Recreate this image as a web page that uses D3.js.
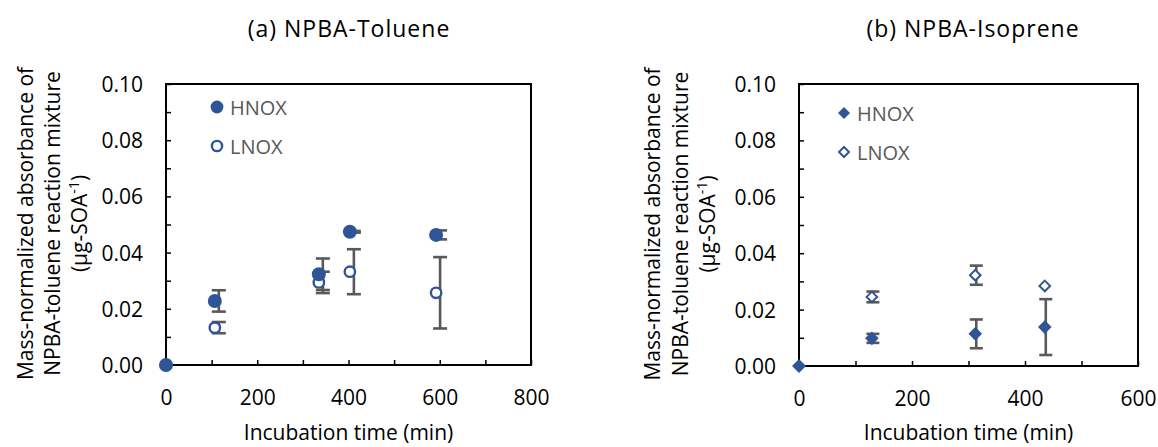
<!DOCTYPE html>
<html>
<head>
<meta charset="utf-8">
<script src="https://cdn.jsdelivr.net/npm/d3@7"></script>
<style>
  body { margin: 0; background: #fff; }
  svg, svg text { font-family: "Open Sans", sans-serif; }
  .tick text { fill: #000; }
</style>
</head>
<body>
<svg id="chart" width="1158" height="447"></svg>
<script>
// (a) NPBA-Toluene
const timeA = [0, 107, 335, 403, 592];
const hnoxA = [0, 0.0228, 0.0323, 0.0474, 0.0463];
const hnoxErrA = [0, 0.0038, 0.0056, 0.0003, 0.0016];
const lnoxA = [0, 0.0133, 0.0294, 0.0332, 0.0257];
const lnoxErrA = [0, 0.002, 0.0038, 0.008, 0.0127];

// (b) NPBA-Isoprene
const timeB = [0, 129, 312, 435];
const hnoxB = [0, 0.0098, 0.0114, 0.0138];
const hnoxErrB = [0, 0.0016, 0.0051, 0.0099];
const lnoxB = [0, 0.0245, 0.0322, 0.0284];
const lnoxErrB = [0, 0.0019, 0.0034, 0];

const seriesNames = ['HNOX', 'LNOX'];
const yTitleLines = ['Mass-normalized absorbance of', 'NPBA-toluene reaction mixture'];
const xTitle = 'Incubation time (min)';

const blue = '#2F5597';
const gray = '#595959';

const svg = d3.select('#chart');

const panels = [
  {
    title: '(a) NPBA-Toluene', time: timeA, hnox: hnoxA, hnoxErr: hnoxErrA, lnox: lnoxA, lnoxErr: lnoxErrA,
    xMax: 800, left: 166, right: 531, top: 84, bottom: 365, shape: 'circle', errShift: 4,
    titleX: 349, yTitleX: [-133, -106, -79], legend: { x: 51, y: 23 }
  },
  {
    title: '(b) NPBA-Isoprene', time: timeB, hnox: hnoxB, hnoxErr: hnoxErrB, lnox: lnoxB, lnoxErr: lnoxErrB,
    xMax: 600, left: 799, right: 1138, top: 84, bottom: 366, shape: 'diamond', errShift: 1,
    titleX: 973, yTitleX: [-139, -111, -84], legend: { x: 45, y: 29 }
  }
];

function drawMarker(g, shape, filled, x, y, size) {
  if (shape === 'circle') {
    g.append('circle')
      .attr('cx', x).attr('cy', y)
      .attr('r', filled ? size : size - 1.3)
      .attr('fill', filled ? blue : '#fff')
      .attr('stroke', blue)
      .attr('stroke-width', filled ? 0 : 2.4);
  } else {
    const s = filled ? size : size - 1;
    g.append('path')
      .attr('d', `M${x},${y - s}L${x + s},${y}L${x},${y + s}L${x - s},${y}Z`)
      .attr('fill', filled ? blue : '#fff')
      .attr('stroke', blue)
      .attr('stroke-width', filled ? 0 : 2);
  }
}

panels.forEach((p) => {
  const x = d3.scaleLinear().domain([0, p.xMax]).range([p.left, p.right]);
  const y = d3.scaleLinear().domain([0, 0.1]).range([p.bottom, p.top]);
  const g = svg.append('g');

  // title
  g.append('text')
    .attr('x', p.titleX).attr('y', 37)
    .attr('text-anchor', 'middle')
    .style('font-size', '23px')
    .style('letter-spacing', '1px')
    .attr('fill', '#000')
    .text(p.title);

  // frame
  g.append('rect')
    .attr('x', p.left).attr('y', p.top)
    .attr('width', p.right - p.left).attr('height', p.bottom - p.top)
    .attr('fill', 'none').attr('stroke', '#000').attr('stroke-width', 2);

  // y axis: ticks every 0.01 (inside), labels every 0.02
  const yAxis = g.append('g')
    .attr('transform', `translate(${p.left},0)`)
    .call(d3.axisRight(y).tickValues(d3.range(0, 0.1001, 0.01)).tickSize(5).tickFormat(''));
  yAxis.select('.domain').remove();
  yAxis.selectAll('line').attr('stroke', '#000').attr('stroke-width', 1.5);

  const yLabels = g.append('g')
    .attr('transform', `translate(${p.left},0)`)
    .call(d3.axisLeft(y).tickValues(d3.range(0, 0.1001, 0.02)).tickSize(0).tickPadding(23).tickFormat(d3.format('.2f')));
  yLabels.select('.domain').remove();
  yLabels.attr('font-family', null);
  yLabels.selectAll('text').style('font-size', '21px').attr('dy', '0.36em');

  // x axis: ticks every 100 (inside), labels every 200
  const xAxis = g.append('g')
    .attr('transform', `translate(0,${p.bottom})`)
    .call(d3.axisTop(x).tickValues(d3.range(0, p.xMax + 1, 100)).tickSize(5).tickFormat(''));
  xAxis.select('.domain').remove();
  xAxis.selectAll('line').attr('stroke', '#000').attr('stroke-width', 1.5);

  const xLabels = g.append('g')
    .attr('transform', `translate(0,${p.bottom})`)
    .call(d3.axisBottom(x).tickValues(d3.range(0, p.xMax + 1, 200)).tickSize(0).tickPadding(25));
  xLabels.select('.domain').remove();
  xLabels.attr('font-family', null);
  xLabels.selectAll('text').style('font-size', '21px').attr('dy', '0.71em');

  // axis titles
  g.append('text')
    .attr('x', (p.left + p.right) / 2).attr('y', 440)
    .attr('text-anchor', 'middle')
    .style('font-size', '21px')
    .attr('fill', '#000')
    .text(xTitle);

  const cy = (p.top + p.bottom) / 2 - 1;
  const yt = g.append('g')
    .attr('transform', `translate(${p.left},${cy}) rotate(-90)`)
    .style('font-size', '21px')
    .attr('fill', '#000')
    .attr('text-anchor', 'middle');
  yTitleLines.forEach((line, i) => {
    yt.append('text').attr('x', 0).attr('y', p.yTitleX[i]).text(line);
  });
  const t3 = yt.append('text').attr('x', 0).attr('y', p.yTitleX[2]);
  t3.append('tspan').text('(µg-SOA');
  t3.append('tspan').attr('dy', -8).style('font-size', '14px').text('-1');
  t3.append('tspan').attr('dy', 8).text(')');

  // error bars
  const errs = g.append('g').attr('stroke', gray).attr('stroke-width', 2.6).attr('fill', 'none');
  const capHalf = p.shape === 'circle' ? 7 : 6.5;
  [[p.hnox, p.hnoxErr], [p.lnox, p.lnoxErr]].forEach(([vals, err]) => {
    vals.forEach((v, i) => {
      if (!err[i]) return;
      const cx = x(p.time[i]) + p.errShift;
      const y0 = y(v - err[i]);
      const y1 = y(v + err[i]);
      errs.append('line').attr('x1', cx).attr('x2', cx).attr('y1', y0).attr('y2', y1);
      errs.append('line').attr('x1', cx - capHalf).attr('x2', cx + capHalf).attr('y1', y0).attr('y2', y0);
      errs.append('line').attr('x1', cx - capHalf).attr('x2', cx + capHalf).attr('y1', y1).attr('y2', y1);
    });
  });

  // markers
  const marks = g.append('g');
  const size = p.shape === 'circle' ? 7 : 6.8;
  p.lnox.forEach((v, i) => drawMarker(marks, p.shape, false, x(p.time[i]), y(v), size - 0.5));
  p.hnox.forEach((v, i) => drawMarker(marks, p.shape, true, x(p.time[i]), y(v), size));

  // legend
  const lg = g.append('g').attr('transform', `translate(${p.left + p.legend.x},${p.top + p.legend.y})`);
  seriesNames.forEach((name, i) => {
    drawMarker(lg, p.shape, i === 0, 0, i * 39, p.shape === 'circle' ? 6.4 : 6);
    lg.append('text')
      .attr('x', 13).attr('y', i * 39 + 7.5)
      .style('font-size', '20px')
      .attr('fill', gray)
      .text(name);
  });
});
</script>
</body>
</html>
